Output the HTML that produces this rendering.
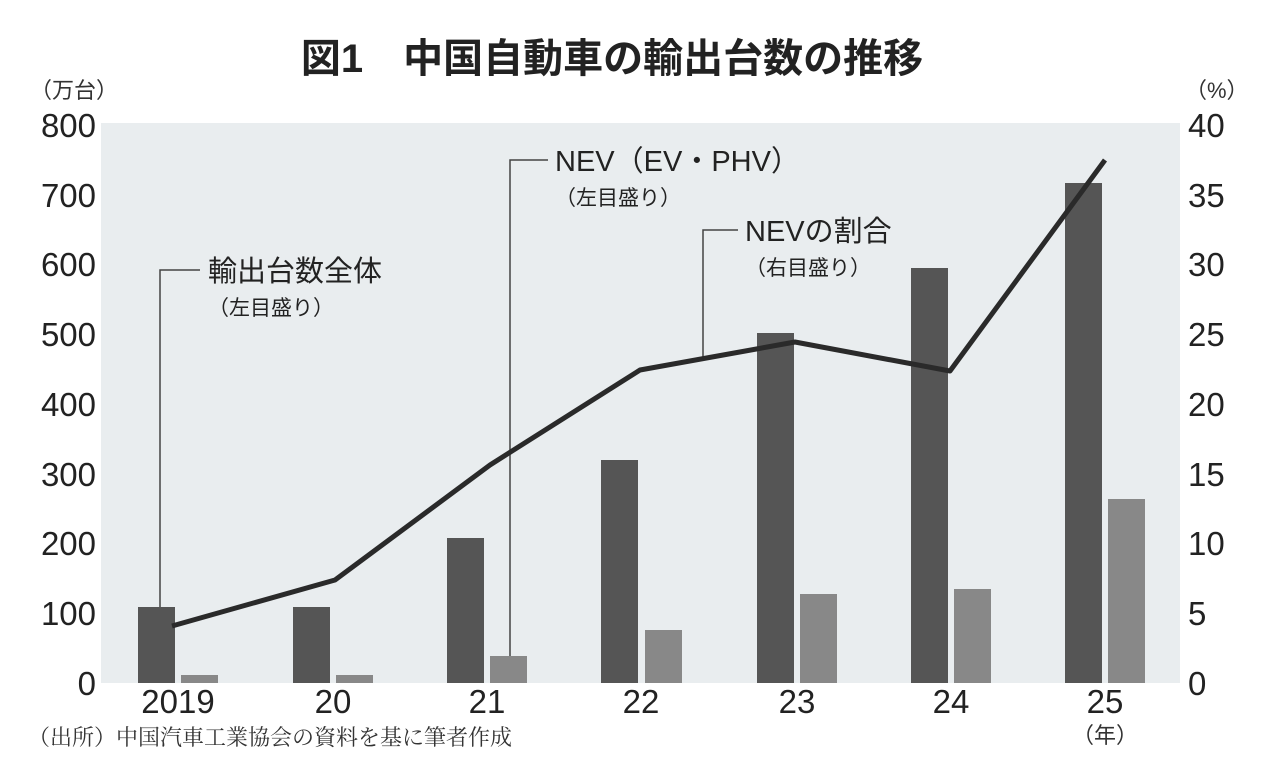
<!DOCTYPE html><html><head><meta charset="utf-8"><style>body{margin:0;background:#fff}</style></head><body>
<svg width="1280" height="767" xmlns="http://www.w3.org/2000/svg" font-family="'Liberation Sans','Noto Sans CJK JP',sans-serif">
<rect width="1280" height="767" fill="#fff"/>
<rect x="101" y="123" width="1079" height="560" fill="#e9edef"/>
<text x="612" y="72" font-size="40" font-weight="bold" text-anchor="middle" fill="#222">図1　中国自動車の輸出台数の推移</text>
<text x="30" y="98" font-size="22" fill="#333">（万台）</text>
<text x="1185" y="98" font-size="22" fill="#333">（%）</text>
<g font-size="33" fill="#222" text-anchor="end">
<text x="96" y="137">800</text><text x="96" y="207">700</text><text x="96" y="276">600</text><text x="96" y="346">500</text><text x="96" y="416">400</text><text x="96" y="486">300</text><text x="96" y="555">200</text><text x="96" y="625">100</text><text x="96" y="695">0</text></g>
<g font-size="33" fill="#222">
<text x="1188" y="137">40</text><text x="1188" y="207">35</text><text x="1188" y="276">30</text><text x="1188" y="346">25</text><text x="1188" y="416">20</text><text x="1188" y="486">15</text><text x="1188" y="555">10</text><text x="1188" y="625">5</text><text x="1188" y="695">0</text></g>
<g fill="#555">
<rect x="138" y="607" width="37" height="76"/><rect x="293" y="607" width="37" height="76"/><rect x="447" y="538" width="37" height="145"/><rect x="601" y="460" width="37" height="223"/><rect x="757" y="333" width="37" height="350"/><rect x="911" y="268" width="37" height="415"/><rect x="1065" y="183" width="37" height="500"/></g>
<g fill="#888">
<rect x="181" y="675" width="37" height="8"/><rect x="336" y="675" width="37" height="8"/><rect x="490" y="656" width="37" height="27"/><rect x="645" y="630" width="37" height="53"/><rect x="800" y="594" width="37" height="89"/><rect x="954" y="589" width="37" height="94"/><rect x="1108" y="499" width="37" height="184"/></g>
<g stroke="#444" stroke-width="1.5" fill="none">
<polyline points="160,607 160,270 200,270"/><polyline points="510,656 510,160 548,160"/><polyline points="703,358 703,230 738,230"/></g>
<polyline points="172,626 335,580 490,465 640,370 795,342 950,371 1105,160" fill="none" stroke="#2a2a2a" stroke-width="5" stroke-linejoin="round"/>
<g fill="#222"><text x="208" y="281" font-size="29">輸出台数全体</text><text x="208" y="315" font-size="21">（左目盛り）</text>
<text x="555" y="171" font-size="29">NEV（EV・PHV）</text><text x="555" y="205" font-size="21">（左目盛り）</text>
<text x="745" y="241" font-size="29">NEVの割合</text><text x="745" y="275" font-size="21">（右目盛り）</text></g>
<g font-size="33" fill="#222" text-anchor="middle"><text x="178" y="713">2019</text><text x="333" y="713">20</text><text x="487" y="713">21</text><text x="641" y="713">22</text><text x="797" y="713">23</text><text x="951" y="713">24</text><text x="1105" y="713">25</text></g>
<text x="1105" y="743" font-size="22" text-anchor="middle" fill="#333">（年）</text>
<text x="28" y="745" font-size="22" fill="#333" font-family="'Liberation Serif','Noto Serif CJK SC',serif">（出所）中国汽車工業協会の資料を基に筆者作成</text>
</svg></body></html>
